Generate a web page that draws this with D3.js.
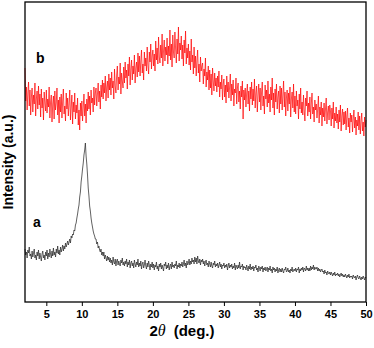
<!DOCTYPE html>
<html>
<head>
<meta charset="utf-8">
<script src="https://cdn.jsdelivr.net/npm/d3@7"></script>
<style>
  body { margin: 0; background: #fff; }
  svg { display: block; font-family: "Liberation Sans", Arial, sans-serif; }
</style>
</head>
<body>
<div id="chart"></div>
<script>
// XRD patterns, 2-theta sampled every 0.1 deg from 2 to 50
const twoThetaStart = 2;
const twoThetaStep = 0.1;
const xTicks = [5, 10, 15, 20, 25, 30, 35, 40, 45, 50];

// pattern a (grey, sharp peak near 10.5 deg), one row per degree
const seriesA = [
  53, 47, 50, 44, 52, 49, 55, 46, 48, 43,
  51, 45, 49, 53, 44, 47, 42, 50, 46, 52,
  43, 49, 45, 41, 48, 51, 44, 47, 42, 50,
  46, 52, 43, 49, 45, 53, 48, 44, 51, 46,
  54, 47, 50, 45, 53, 49, 56, 48, 52, 47,
  55, 50, 53, 57, 51, 56, 53, 59, 55, 58,
  61, 57, 60, 63, 59, 66, 64, 68, 67, 72,
  71, 77, 79, 84, 88, 93, 97, 105, 110, 120,
  126, 133, 139, 147, 152, 159, 146, 138, 127, 114,
  106, 96, 91, 84, 79, 75, 71, 68, 66, 63,
  63, 58, 60, 54, 56, 52, 50, 53, 47, 50,
  46, 50, 43, 47, 44, 41, 46, 42, 45, 40,
  44, 39, 42, 37, 45, 40, 38, 43, 36, 41,
  43, 37, 41, 38, 36, 42, 39, 44, 37, 40,
  36, 41, 38, 43, 35, 40, 37, 42, 34, 39,
  41, 36, 39, 34, 42, 38, 35, 40, 37, 43,
  35, 39, 36, 41, 33, 38, 40, 34, 37, 42,
  36, 33, 39, 35, 41, 37, 32, 38, 35, 40,
  34, 38, 32, 37, 35, 40, 33, 36, 31, 38,
  35, 39, 33, 37, 34, 31, 38, 36, 40, 33,
  37, 34, 39, 32, 36, 38, 33, 40, 35, 37,
  34, 38, 36, 41, 33, 37, 35, 39, 34, 38,
  36, 40, 35, 38, 42, 36, 39, 34, 41, 37,
  39, 43, 37, 41, 38, 44, 40, 42, 38, 45,
  40, 44, 38, 46, 41, 39, 43, 37, 42, 40,
  43, 38, 41, 36, 40, 42, 37, 39, 35, 41,
  38, 35, 40, 36, 34, 39, 37, 41, 35, 38,
  36, 39, 34, 37, 40, 35, 38, 33, 37, 36,
  39, 34, 37, 35, 38, 32, 36, 39, 34, 37,
  35, 38, 33, 36, 34, 39, 32, 37, 35, 33,
  37, 34, 40, 33, 36, 35, 38, 32, 36, 34,
  35, 32, 37, 34, 31, 36, 33, 38, 32, 35,
  33, 36, 31, 35, 34, 37, 32, 34, 30, 36,
  34, 31, 35, 33, 36, 30, 34, 32, 35, 31,
  33, 35, 30, 34, 32, 36, 31, 33, 29, 35,
  32, 34, 30, 33, 31, 35, 29, 32, 34, 30,
  33, 30, 34, 31, 29, 33, 32, 35, 30, 31,
  34, 30, 32, 29, 33, 31, 35, 30, 32, 33,
  31, 34, 30, 33, 32, 35, 29, 33, 31, 34,
  32, 35, 30, 34, 33, 31, 36, 32, 34, 31,
  34, 31, 36, 32, 35, 33, 37, 32, 35, 33,
  33, 35, 31, 34, 31, 33, 30, 32, 33, 30,
  31, 28, 32, 29, 30, 27, 31, 29, 28, 30,
  27, 30, 28, 26, 29, 27, 30, 26, 28, 27,
  29, 26, 28, 25, 27, 29, 26, 28, 25, 27,
  25, 28, 26, 24, 27, 25, 28, 24, 26, 25,
  26, 23, 27, 25, 24, 26, 22, 25, 27, 24,
  23, 26, 24, 22, 25, 23, 26, 24, 22, 25,
  24
];

// pattern b (red, broad hump near 23 deg), one row per degree
const seriesB = [
  234, 201, 215, 192, 209, 220, 196, 212, 187, 205,
  214, 190, 207, 198, 219, 186, 203, 211, 193, 216,
  197, 208, 185, 213, 194, 204, 182, 210, 199, 191,
  212, 189, 203, 195, 215, 184, 200, 207, 180, 198,
  206, 183, 211, 192, 199, 214, 187, 202, 179, 205,
  190, 208, 184, 201, 213, 188, 196, 181, 209, 193,
  204, 186, 198, 212, 182, 195, 207, 178, 200, 190,
  209, 183, 197, 189, 204, 177, 192, 172, 199, 186,
  201, 181, 195, 208, 186, 198, 179, 203, 191, 210,
  193, 206, 187, 212, 199, 204, 190, 215, 197, 209,
  214, 196, 208, 219, 200, 211, 193, 217, 205, 222,
  203, 219, 209, 226, 201, 215, 221, 204, 228, 212,
  224, 207, 230, 214, 221, 203, 233, 216, 209, 227,
  236, 212, 225, 218, 239, 208, 229, 221, 214, 235,
  219, 240, 224, 232, 213, 238, 226, 245, 217, 233,
  242, 222, 236, 228, 247, 219, 234, 240, 225, 249,
  230, 246, 226, 241, 252, 229, 238, 222, 250, 236,
  244, 231, 255, 237, 228, 250, 240, 258, 233, 246,
  252, 236, 248, 231, 261, 242, 254, 238, 265, 245,
  239, 257, 244, 268, 236, 251, 262, 241, 255, 247,
  264, 238, 256, 246, 272, 242, 258, 235, 267, 250,
  244, 270, 253, 239, 263, 248, 275, 241, 259, 252,
  266, 243, 257, 236, 262, 249, 271, 238, 254, 244,
  258, 237, 251, 232, 263, 240, 247, 228, 255, 234,
  246, 226, 241, 252, 229, 238, 220, 245, 231, 236,
  239, 218, 233, 226, 244, 215, 230, 222, 236, 212,
  232, 214, 228, 207, 234, 221, 211, 229, 216, 224,
  210, 226, 215, 231, 205, 220, 213, 227, 202, 218,
  223, 205, 217, 199, 226, 210, 220, 204, 215, 228,
  201, 218, 207, 222, 196, 213, 209, 224, 198, 214,
  219, 200, 211, 193, 216, 205, 221, 183, 212, 202,
  214, 195, 209, 218, 198, 211, 191, 215, 203, 220,
  197, 213, 201, 223, 194, 209, 216, 190, 207, 218,
  200, 214, 192, 210, 220, 196, 206, 188, 217, 203,
  212, 195, 221, 199, 208, 190, 215, 202, 224, 194,
  209, 187, 213, 200, 218, 193, 205, 211, 189, 216,
  198, 214, 192, 207, 221, 195, 210, 186, 204, 212,
  191, 209, 198, 215, 185, 203, 210, 194, 218, 190,
  206, 188, 211, 196, 202, 183, 208, 193, 214, 189,
  200, 187, 207, 192, 181, 204, 196, 211, 186, 199,
  190, 205, 183, 198, 209, 188, 195, 180, 202, 192,
  198, 184, 193, 206, 179, 195, 187, 200, 176, 194,
  185, 199, 181, 193, 204, 178, 190, 196, 182, 197,
  191, 176, 194, 183, 200, 174, 189, 181, 195, 179,
  188, 173, 192, 180, 197, 171, 186, 193, 177, 190,
  178, 191, 172, 186, 194, 175, 184, 169, 189, 180,
  187, 170, 183, 192, 174, 185, 167, 182, 176, 190,
  172, 186, 168, 181, 189, 171, 180, 166, 185, 175,
  182
];

const width = 374, height = 348;
const plotLeft = 25, plotRight = 366, plotTop = 2, plotBottom = 302;

const svg = d3.select("#chart")
  .append("svg")
  .attr("width", width)
  .attr("height", height);

const x = d3.scaleLinear().domain([2, 50]).range([plotLeft, plotRight]);
const y = d3.scaleLinear().domain([0, 300]).range([plotBottom, plotTop]);

const line = d3.line()
  .x((d, i) => x(twoThetaStart + i * twoThetaStep))
  .y(d => y(d));

svg.append("path")
  .datum(seriesA)
  .attr("fill", "none")
  .attr("stroke", "#2e2e2e")
  .attr("stroke-width", 0.75)
  .attr("d", line);

svg.append("path")
  .datum(seriesB)
  .attr("fill", "none")
  .attr("stroke", "#ff0000")
  .attr("stroke-width", 0.7)
  .attr("d", line);

// frame
svg.append("rect")
  .attr("x", plotLeft)
  .attr("y", plotTop)
  .attr("width", plotRight - plotLeft)
  .attr("height", plotBottom - plotTop)
  .attr("fill", "none")
  .attr("stroke", "#000")
  .attr("stroke-width", 1.3);

const xAxis = svg.append("g")
  .attr("transform", `translate(0,${plotBottom})`)
  .call(d3.axisBottom(x).tickValues(xTicks).tickSize(4).tickPadding(4));
xAxis.select(".domain").remove();
xAxis.selectAll("text")
  .attr("font-size", 11)
  .attr("font-weight", "bold")
  .attr("font-family", "Liberation Sans, Arial, sans-serif")
  .attr("fill", "#000");

// axis titles
const xt = svg.append("text")
  .attr("x", 182)
  .attr("y", 336)
  .attr("text-anchor", "middle")
  .attr("font-size", 15)
  .attr("font-weight", "bold");
xt.append("tspan").text("2");
xt.append("tspan")
  .attr("font-family", "Liberation Serif, serif")
  .attr("font-style", "italic")
  .attr("font-weight", "normal")
  .attr("font-size", 16)
  .text("\u03b8");
xt.append("tspan").attr("dx", 8).text("(deg.)");

svg.append("text")
  .attr("transform", "translate(13,162) rotate(-90)")
  .attr("text-anchor", "middle")
  .attr("font-size", 14)
  .attr("font-weight", "bold")
  .text("Intensity (a.u.)");

// series labels
svg.append("text").attr("x", 36).attr("y", 63)
  .attr("font-size", 14).attr("font-weight", "bold").text("b");
svg.append("text").attr("x", 33).attr("y", 227)
  .attr("font-size", 14).attr("font-weight", "bold").text("a");
</script>
</body>
</html>
